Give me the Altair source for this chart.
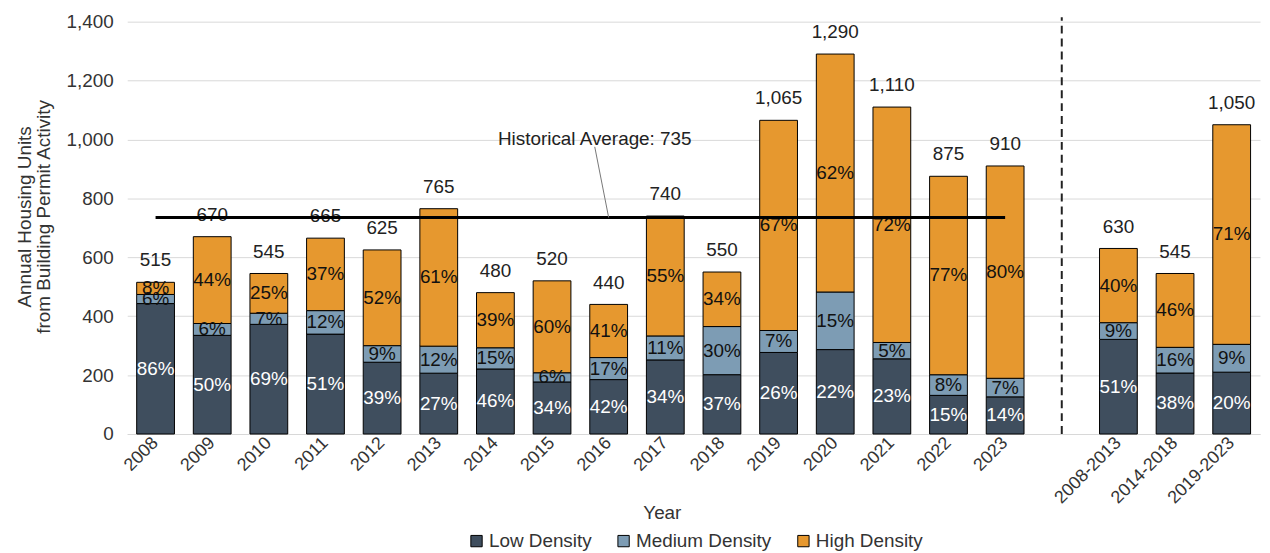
import altair as alt
import pandas as pd

# ---- data ----
categories = ["2008", "2009", "2010", "2011", "2012", "2013", "2014", "2015",
              "2016", "2017", "2018", "2019", "2020", "2021", "2022", "2023",
              "2008-2013", "2014-2018", "2019-2023"]
gap = " "
domain = categories[:16] + [gap] + categories[16:]

totals = [515, 670, 545, 665, 625, 765, 480, 520, 440, 740, 550, 1065, 1290,
          1110, 875, 910, 630, 545, 1050]
low_pct = [86, 50, 69, 51, 39, 27, 46, 34, 42, 34, 37, 26, 22, 23, 15, 14, 51, 38, 20]
med_pct = [6, 6, 7, 12, 9, 12, 15, 6, 17, 11, 30, 7, 15, 5, 8, 7, 9, 16, 9]
high_pct = [8, 44, 25, 37, 52, 61, 39, 60, 41, 55, 34, 67, 62, 72, 77, 80, 40, 46, 71]

series = ["Low Density", "Medium Density", "High Density"]
colors = ["#3F4E5E", "#7D9CB4", "#E6982F"]
label_colors = ["#FFFFFF", "#111111", "#111111"]

hist_avg = 735
hist_first, hist_last = "2008", "2023"
annot_text = "Historical Average: 735"
annot_cat = "2016"

FONT = "Liberation Sans"

# ---- build table ----
rows = []
for i, c in enumerate(categories):
    pcts = [low_pct[i], med_pct[i], high_pct[i]]
    s = sum(pcts)
    base = 0.0
    for k, name in enumerate(series):
        v = totals[i] * pcts[k] / s
        rows.append({"cat": c, "series": name, "ord": k, "value": v,
                     "mid": base + v / 2, "pct": f"{pcts[k]}%",
                     "tcolor": label_colors[k]})
        base += v
df = pd.DataFrame(rows)
df_tot = pd.DataFrame({"cat": categories, "total": totals})

xscale = alt.Scale(domain=domain, paddingInner=0.333, paddingOuter=0.1667)
yscale = alt.Scale(domain=[0, 1400], nice=False)

bars = alt.Chart(df).mark_bar(stroke="black", strokeWidth=1).encode(
    x=alt.X("cat:N", scale=xscale, sort=domain,
            axis=alt.Axis(title="Year", labelAngle=-45, labelAlign="right",
                          labelBaseline="middle", labelPadding=6, ticks=False,
                          domainColor="#D9D9D9", labelFontSize=18,
                          titleFontSize=19, titleFontWeight="normal",
                          titleX=538, titleY=79, titleBaseline="middle",
                          labelColor="#333333", titleColor="#333333")),
    y=alt.Y("value:Q", stack="zero", scale=yscale,
            axis=alt.Axis(title=["Annual Housing Units", "from Building Permit Activity"],
                          values=[0, 200, 400, 600, 800, 1000, 1200, 1400],
                          format=",d", domain=False, ticks=False, labelPadding=14,
                          gridColor="#D9D9D9", labelFontSize=19, titleFontSize=19,
                          titleLineHeight=19,
                          titleFontWeight="normal", titleX=-93, titleY=196,
                          labelColor="#333333", titleColor="#333333")),
    color=alt.Color("series:N", scale=alt.Scale(domain=series, range=colors),
                    legend=alt.Legend(orient="none", legendX=342, legendY=513,
                                      direction="horizontal", title=None,
                                      symbolType="square", symbolSize=130,
                                      symbolStrokeColor="black", symbolStrokeWidth=1,
                                      labelFontSize=19, labelOffset=3,
                                      columnPadding=22, labelColor="#333333")),
    order=alt.Order("ord:Q", sort="ascending"),
)

pct_text = alt.Chart(df).mark_text(fontSize=19, baseline="middle").encode(
    x=alt.X("cat:N", sort=domain),
    y=alt.Y("mid:Q"),
    text="pct:N",
    color=alt.Color("tcolor:N", scale=None),
)

tot_text = alt.Chart(df_tot).mark_text(fontSize=19, baseline="alphabetic", dy=-16,
                                       color="#222222").encode(
    x=alt.X("cat:N", sort=domain),
    y=alt.Y("total:Q"),
    text=alt.Text("total:Q", format=","),
)

avg_df = pd.DataFrame({"x": [hist_first], "x2": [hist_last], "y": [hist_avg]})
avg_rule = alt.Chart(avg_df).mark_rule(color="black", strokeWidth=3).encode(
    x="x:N", x2="x2:N", y="y:Q")

lead_df = pd.DataFrame({"x": [annot_cat], "y": [hist_avg], "y2": [975]})
lead_rule = alt.Chart(lead_df).mark_rule(color="#777777", strokeWidth=1,
                                         x2Offset=-14).encode(
    x="x:N", x2="x:N", y="y:Q", y2="y2:Q")

annot_df = pd.DataFrame({"x": [annot_cat], "y": [1002], "t": [annot_text]})
annot = alt.Chart(annot_df).mark_text(fontSize=19, dx=-14, baseline="middle",
                                      color="#222222").encode(
    x="x:N", y="y:Q", text="t:N")

sep_df = pd.DataFrame({"x": [gap], "y": [0], "y2": [1415]})
sep = alt.Chart(sep_df).mark_rule(color="#222222", strokeWidth=2,
                                  strokeDash=[8, 5]).encode(
    x="x:N", y="y:Q", y2="y2:Q")

chart = alt.layer(bars, pct_text, tot_text, avg_rule, lead_rule, annot, sep).properties(
    width=1140, height=415, autosize="none",
    padding={"left": 120, "top": 12, "right": 2, "bottom": 118},
).configure(font=FONT).configure_view(stroke=None)

chart.save("out.html", embed_options={"renderer": "svg", "actions": False})
